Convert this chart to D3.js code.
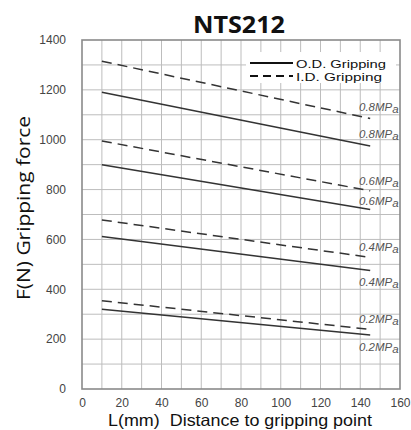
<!DOCTYPE html>
<html><head><meta charset="utf-8">
<script src="https://cdn.jsdelivr.net/npm/d3@7"></script>
<style>body{margin:0;background:#fff}</style>
</head><body>
<script>
const xDomain = [0, 160];
const yDomain = [0, 1400];
const xTicks = [0, 20, 40, 60, 80, 100, 120, 140, 160];
const yTicks = [0, 200, 400, 600, 800, 1000, 1200, 1400];
const xPoints = [10, 145];
const pressures = ["0.8MPa", "0.6MPa", "0.4MPa", "0.2MPa"];
const odValues = [[1190, 975], [900, 720], [612, 475], [320, 217]];
const idValues = [[1315, 1085], [995, 795], [678, 528], [354, 239]];
const title = "NTS212";
const xLabel = "L(mm)\u00a0\u00a0Distance to gripping point";
const yLabel = "F(N) Gripping force";
const legendLabels = ["O.D. Gripping", "I.D. Gripping"];

const W = 411, H = 430;
const m = {l: 82, r: 11, t: 40, b: 41};
const svg = d3.select("body").append("svg").attr("width", W).attr("height", H);
const x = d3.scaleLinear().domain(xDomain).range([m.l, W - m.r]);
const y = d3.scaleLinear().domain(yDomain).range([H - m.b, m.t]);
const font = "'Open Sans', 'Noto Sans', sans-serif";
const lib = "'Liberation Sans', Arial, sans-serif";

// grid
const g = svg.append("g");
g.selectAll(".vg").data(d3.range(10, 160, 10)).join("line")
  .attr("x1", d => x(d)).attr("x2", d => x(d)).attr("y1", y(0)).attr("y2", y(1400))
  .attr("stroke", "#bdbdbd").attr("stroke-width", 1);
g.selectAll(".hg").data(d3.range(100, 1400, 100)).join("line")
  .attr("y1", d => y(d)).attr("y2", d => y(d)).attr("x1", x(0)).attr("x2", x(160))
  .attr("stroke", "#bdbdbd").attr("stroke-width", 1);
svg.append("rect").attr("x", x(0)).attr("y", y(1400)).attr("width", x(160) - x(0)).attr("height", y(0) - y(1400))
  .attr("fill", "none").attr("stroke", "#8a8a8a").attr("stroke-width", 1.6);

// axes
const xa = svg.append("g").attr("transform", `translate(0,${y(0)})`)
  .call(d3.axisBottom(x).tickValues(xTicks).tickFormat(d3.format("d")).tickSize(0).tickPadding(9));
const ya = svg.append("g").attr("transform", `translate(${x(0)},0)`)
  .call(d3.axisLeft(y).tickValues(yTicks).tickFormat(d3.format("d")).tickSize(0).tickPadding(16));
[xa, ya].forEach(a => {
  a.select(".domain").remove();
  a.selectAll("text").attr("font-family", lib).attr("font-size", 12).attr("fill", "#444");
});

// legend
const lg = svg.append("g");
lg.append("rect").attr("x", 246).attr("y", 52).attr("width", 150).attr("height", 31).attr("fill", "#fff");
lg.append("line").attr("x1", 250).attr("x2", 293).attr("y1", 63).attr("y2", 63).attr("stroke", "#111").attr("stroke-width", 2);
lg.append("line").attr("x1", 250).attr("x2", 293).attr("y1", 76).attr("y2", 76).attr("stroke", "#111").attr("stroke-width", 2).attr("stroke-dasharray", "8,5");
lg.selectAll("text").data(legendLabels).join("text")
  .attr("x", 296).attr("y", (d, i) => 67.5 + i * 13).text(d => d)
  .attr("font-family", lib).attr("font-size", 11.5)
  .attr("textLength", (d, i) => i === 0 ? 90 : 86).attr("lengthAdjust", "spacingAndGlyphs")
  .attr("fill", "#111");

// lines
const line = d3.line().x((d, i) => x(xPoints[i])).y(d => y(d));
svg.selectAll(".od").data(odValues).join("path").attr("d", line)
  .attr("fill", "none").attr("stroke", "#333").attr("stroke-width", 1.5);
svg.selectAll(".id").data(idValues).join("path").attr("d", line)
  .attr("fill", "none").attr("stroke", "#333").attr("stroke-width", 1.5).attr("stroke-dasharray", "10,6");

// pressure labels
function addLabel(txt, yy) {
  const t = svg.append("text").attr("x", 359).attr("y", yy)
    .attr("font-family", lib).attr("font-style", "italic")
    .attr("font-size", 11.5).attr("fill", "#555");
  t.append("tspan").text(txt.slice(0, -1));
  t.append("tspan").attr("dy", 2).text(txt.slice(-1));
}
const idOffset = [-8, -6, -6, -6];
const odOffset = [-8, -5, 15, 16];
pressures.forEach((p, i) => {
  addLabel(p, y(idValues[i][1]) + idOffset[i]);
  addLabel(p, y(odValues[i][1]) + odOffset[i]);
});

// titles
svg.append("text").attr("x", 239).attr("y", 33).attr("text-anchor", "middle")
  .attr("font-family", font).attr("font-weight", "bold").attr("font-size", 24)
  .attr("textLength", 92).attr("lengthAdjust", "spacingAndGlyphs")
  .attr("fill", "#111").text(title);
svg.append("text").attr("x", 240).attr("y", 426).attr("text-anchor", "middle")
  .attr("font-family", lib).attr("font-size", 16.5)
  .attr("textLength", 264).attr("lengthAdjust", "spacingAndGlyphs")
  .attr("fill", "#111").text(xLabel);
svg.append("text").attr("transform", `translate(30,208) rotate(-90)`).attr("text-anchor", "middle")
  .attr("font-family", font).attr("font-size", 19)
  .attr("textLength", 184).attr("lengthAdjust", "spacingAndGlyphs")
  .attr("fill", "#111").text(yLabel);
</script>
</body></html>
